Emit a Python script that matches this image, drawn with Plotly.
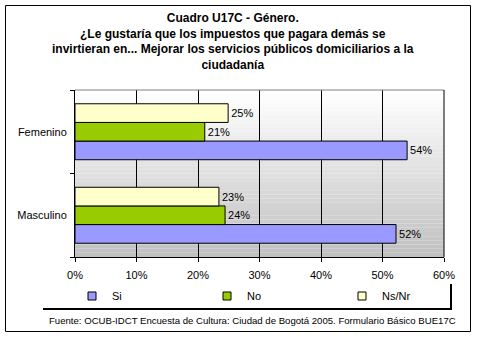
import plotly.graph_objects as go

categories = ["Femenino", "Masculino"]
si_values = [54.0, 52.2]
no_values = [21.1, 24.4]
nsnr_values = [24.9, 23.4]
series_names = ["Si", "No", "Ns/Nr"]
series_colors = ["#9999FF", "#99CC00", "#FFFFCC"]
x_ticks = [0, 10, 20, 30, 40, 50, 60]
x_tick_labels = ["0%", "10%", "20%", "30%", "40%", "50%", "60%"]

title_lines = [
    "Cuadro U17C - Género.",
    "¿Le gustaría que los impuestos que pagara demás se",
    "invirtieran en... Mejorar los servicios públicos domiciliarios a la",
    "ciudadanía",
]
footer = "Fuente: OCUB-IDCT Encuesta de Cultura: Ciudad de Bogotá 2005. Formulario Básico BUE17C"

W, H = 477, 339
L, R, T, B = 75, 444, 90, 257
FONT = "Liberation Sans, Arial, sans-serif"


def px(xp):
    return (xp - L) / (R - L)


def py(yp):
    return (B - yp) / (B - T)


fig = go.Figure()
for name, vals, col in zip(series_names, [si_values, no_values, nsnr_values], series_colors):
    fig.add_trace(go.Bar(
        y=categories, x=vals, orientation="h", name=name,
        marker=dict(color=col, line=dict(color="black", width=1)),
        text=[f"{round(v)}%" for v in vals], textposition="outside",
        textfont=dict(size=11, color="black", family=FONT),
        cliponaxis=False, showlegend=False,
    ))
    fig.add_trace(go.Scatter(
        x=[None], y=[None], mode="markers", name=name,
        marker=dict(symbol="square", size=8, color=col, line=dict(color="black", width=1)),
        showlegend=True,
    ))

shapes = []
# gradient background
n = 40
for i in range(n):
    t = i / (n - 1)
    g = int(round(255 - (255 - 192) * t))
    shapes.append(dict(type="rect", xref="paper", yref="paper",
                       x0=0, x1=1, y0=1 - (i + 1) / n, y1=1 - i / n,
                       fillcolor=f"rgb({g},{g},{g})", line=dict(width=0), layer="below"))
# top plot border
shapes.append(dict(type="line", xref="paper", yref="paper", x0=0, x1=1, y0=1, y1=1,
                   line=dict(color="#808080", width=1)))
shapes.append(dict(type="line", xref="paper", yref="paper", x0=1, x1=1, y0=0, y1=1,
                   line=dict(color="black", width=1)))
# legend box shadow lines
shapes.append(dict(type="line", xref="paper", yref="paper", x0=px(43), x1=px(452), y0=py(309), y1=py(309),
                   line=dict(color="black", width=2)))
shapes.append(dict(type="line", xref="paper", yref="paper", x0=px(451), x1=px(451), y0=py(284), y1=py(310),
                   line=dict(color="black", width=2)))
# outer border
shapes.append(dict(type="rect", xref="paper", yref="paper", x0=px(5.5), x1=px(470.5), y0=py(331.5), y1=py(5.5),
                   line=dict(color="black", width=1), fillcolor="rgba(0,0,0,0)"))

annotations = [
    dict(text="<br>".join(title_lines), xref="paper", yref="paper", x=px(233), y=py(9),
         xanchor="center", yanchor="top", showarrow=False,
         font=dict(size=12, family=FONT, color="black", weight="bold")),
    dict(text=footer, xref="paper", yref="paper", x=px(252), y=py(320),
         xanchor="center", yanchor="middle", showarrow=False,
         font=dict(size=9.6, family=FONT, color="black")),
]

fig.update_layout(
    width=W, height=H,
    margin=dict(l=L, r=W - R, t=T, b=H - B),
    paper_bgcolor="white", plot_bgcolor="rgba(0,0,0,0)",
    barmode="group", bargap=0.33, bargroupgap=0,
    font=dict(family=FONT, size=11, color="black"),
    shapes=shapes, annotations=annotations,
    showlegend=True,
    legend=dict(orientation="h", x=-0.002, xanchor="left", y=py(296), yanchor="middle",
                entrywidth=90, entrywidthmode="pixels", font=dict(size=11),
                bgcolor="rgba(0,0,0,0)", traceorder="normal"),
    xaxis=dict(range=[0, 60], tickvals=x_ticks, ticktext=x_tick_labels,
               showgrid=True, gridcolor="black", gridwidth=1, zeroline=False,
               showline=True, linecolor="black", linewidth=1,
               ticks="outside", ticklen=4, tickcolor="black", ticklabelstandoff=4,
               fixedrange=True),
    yaxis=dict(categoryorder="array", categoryarray=["Masculino", "Femenino"],
               showgrid=False, zeroline=False, showline=True, linecolor="black", linewidth=1,
               ticks="outside", ticklen=4, tickcolor="black", tickson="boundaries",
               ticklabelstandoff=5, fixedrange=True),
)

fig.write_html("out.html")
